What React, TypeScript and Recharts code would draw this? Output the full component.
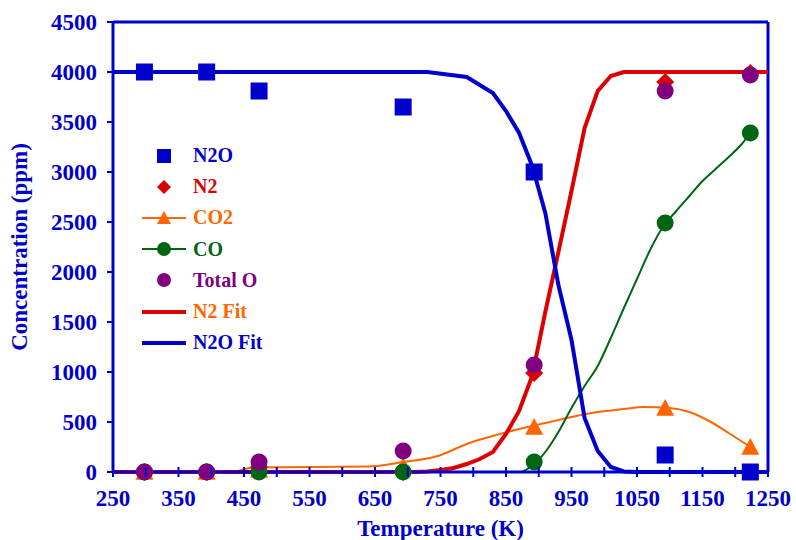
import React from "react";
import {
  ComposedChart,
  Line,
  XAxis,
  YAxis,
  ReferenceLine,
  Legend,
} from "recharts";

const BLUE = "#0000CC";
const RED = "#DD0000";
const ORANGE = "#FF6600";
const GREEN = "#006614";
const PURPLE = "#800080";
const FONT = '"Liberation Serif", "Times New Roman", serif';

// measured points
const temps = [298, 393, 473, 693, 893, 1093, 1223];
const n2o = [4000, 4000, 3810, 3650, 3000, 170, 0];
const n2 = [0, 0, 50, 0, 990, 3900, 3990];
const co2 = [0, 0, 20, 60, 450, 640, 250];
const co = [0, 0, 0, 0, 100, 2490, 3390];
const totalO = [0, 0, 100, 210, 1070, 3810, 3970];

// fitted / trend curves
const co2LineT = [250, 430, 465, 640, 693, 746, 790, 830, 870, 910, 950, 990, 1030, 1060, 1100, 1130, 1160, 1190, 1223];
const co2LineV = [0, 0, 45, 55, 100, 160, 280, 360, 430, 490, 550, 600, 630, 650, 640, 600, 510, 390, 250];

const coLineT = [250, 700, 730, 760, 790, 820, 850, 870, 890, 910, 930, 950, 970, 990, 1010, 1030, 1050, 1070, 1090, 1110, 1130, 1150, 1170, 1190, 1210, 1223];
const coLineV = [0, 0, -20, -60, -110, -130, -70, -10, 60, 200, 400, 640, 860, 1060, 1340, 1640, 1930, 2220, 2455, 2610, 2760, 2910, 3030, 3150, 3280, 3390];

const n2FitT = [250, 710, 730, 750, 770, 790, 810, 830, 850, 870, 890, 910, 930, 950, 970, 990, 1010, 1030, 1250];
const n2FitV = [0, 0, 5, 20, 40, 80, 130, 200, 380, 610, 960, 1600, 2200, 2810, 3440, 3810, 3960, 4000, 4000];

const n2oFitT = [250, 730, 790, 830, 850, 870, 890, 910, 930, 950, 970, 990, 1010, 1030, 1050, 1250];
const n2oFitV = [4000, 4000, 3950, 3790, 3610, 3390, 3060, 2590, 1870, 1320, 540, 210, 50, 5, 0, 0];

const xTicks = [250, 300, 350, 400, 450, 500, 550, 600, 650, 700, 750, 800, 850, 900, 950, 1000, 1050, 1100, 1150, 1200, 1250];
const yTicks = [0, 500, 1000, 1500, 2000, 2500, 3000, 3500, 4000, 4500];

const legendItems = [
  { name: "N2O", color: BLUE, text: BLUE, marker: "square", line: false },
  { name: "N2", color: RED, text: RED, marker: "diamond", line: false },
  { name: "CO2", color: ORANGE, text: ORANGE, marker: "triangle", line: true },
  { name: "CO", color: GREEN, text: GREEN, marker: "circle", line: true },
  { name: "Total O", color: PURPLE, text: PURPLE, marker: "circle", line: false },
  { name: "N2 Fit", color: RED, text: ORANGE, marker: "none", line: true },
  { name: "N2O Fit", color: BLUE, text: BLUE, marker: "none", line: true },
];

const pts = (t: number[], v: number[]) => t.map((x, i) => ({ t: x, v: v[i] }));

function Marker({ kind, cx, cy, color, s }: { kind: string; cx: number; cy: number; color: string; s: number }) {
  if (kind === "square") return <rect x={cx - s} y={cy - s} width={s * 2} height={s * 2} fill={color} />;
  if (kind === "diamond")
    return <polygon points={`${cx},${cy - s} ${cx + s},${cy} ${cx},${cy + s} ${cx - s},${cy}`} fill={color} />;
  if (kind === "triangle")
    return <polygon points={`${cx},${cy - s} ${cx + s},${cy + s * 0.85} ${cx - s},${cy + s * 0.85}`} fill={color} />;
  if (kind === "circle") return <circle cx={cx} cy={cy} r={s} fill={color} />;
  return null;
}

const dotOf = (kind: string, color: string, s: number) => (p: any) =>
  <Marker key={p.index} kind={kind} cx={p.cx} cy={p.cy} color={color} s={s} />;

const XTick = ({ x, y, payload }: any) => {
  const show = (payload.value - 250) % 100 === 0;
  return (
    <g>
      <line x1={x} x2={x} y1={y - 5} y2={y + 5} stroke={BLUE} strokeWidth={2} />
      {show && (
        <text x={x} y={y + 26} textAnchor="middle" dominantBaseline="central" fill={BLUE}
          style={{ fontFamily: FONT, fontWeight: "bold", fontSize: 23 }}>
          {payload.value}
        </text>
      )}
    </g>
  );
};

const LegendBox = () => (
  <div style={{ fontFamily: FONT, fontWeight: "bold", fontSize: 20 }}>
    {legendItems.map((it) => (
      <div key={it.name} style={{ display: "flex", alignItems: "center", height: 31.2 }}>
        <svg width={50} height={20} style={{ marginRight: 4 }}>
          {it.line && <line x1={3} x2={47} y1={10} y2={10} stroke={it.color} strokeWidth={it.marker === "none" ? 4 : 2} />}
          <Marker kind={it.marker} cx={25} cy={10} color={it.color} s={7} />
        </svg>
        <span style={{ color: it.text }}>{it.name}</span>
      </div>
    ))}
  </div>
);

export default function App() {
  return (
    <div style={{ position: "absolute", left: 0, top: 0 }}>
      <ComposedChart width={796} height={540} margin={{ top: 22, right: 28, left: 0, bottom: 0 }}>
        <XAxis
          dataKey="t"
          type="number"
          domain={[250, 1250]}
          ticks={xTicks}
          interval={0}
          height={68}
          tickSize={0}
          tickMargin={0}
          tickLine={false}
          tick={<XTick />}
          axisLine={{ stroke: BLUE, strokeWidth: 3 }}
          label={{
            value: "Temperature (K)",
            position: "insideBottom",
            offset: 4,
            fill: BLUE,
            style: { fontFamily: FONT, fontWeight: "bold", fontSize: 23 },
          }}
        />
        <YAxis
          dataKey="v"
          type="number"
          domain={[0, 4500]}
          allowDataOverflow
          ticks={yTicks}
          interval={0}
          width={113}
          tickSize={6}
          tickMargin={10}
          tickLine={{ stroke: BLUE, strokeWidth: 2 }}
          axisLine={{ stroke: BLUE, strokeWidth: 3 }}
          tick={{ fill: BLUE, fontFamily: FONT, fontWeight: "bold", fontSize: 23 }}
          label={{
            value: "Concentration (ppm)",
            angle: -90,
            position: "insideLeft",
            offset: 19,
            fill: BLUE,
            style: { fontFamily: FONT, fontWeight: "bold", fontSize: 23, textAnchor: "middle" },
          }}
        />
        <YAxis yAxisId="m" dataKey="v" type="number" domain={[0, 4500]} hide />
        <ReferenceLine y={4500} stroke={BLUE} strokeWidth={3} />
        <ReferenceLine x={1250} stroke={BLUE} strokeWidth={3} />

        <Line yAxisId="m" data={pts(co2LineT, co2LineV)} dataKey="v" type="monotone" stroke={ORANGE} strokeWidth={2} dot={false} activeDot={false} isAnimationActive={false} />
        <Line data={pts(coLineT, coLineV)} dataKey="v" type="monotone" stroke={GREEN} strokeWidth={2} dot={false} activeDot={false} isAnimationActive={false} />
        <Line yAxisId="m" data={pts(n2FitT, n2FitV)} dataKey="v" type="linear" stroke={RED} strokeWidth={4} dot={false} activeDot={false} isAnimationActive={false} />
        <Line yAxisId="m" data={pts(n2oFitT, n2oFitV)} dataKey="v" type="linear" stroke={BLUE} strokeWidth={4} dot={false} activeDot={false} isAnimationActive={false} />

        <Line yAxisId="m" data={pts(temps, n2o)} dataKey="v" stroke="none" dot={dotOf("square", BLUE, 8.5)} activeDot={false} isAnimationActive={false} />
        <Line yAxisId="m" data={pts(temps, n2)} dataKey="v" stroke="none" dot={dotOf("diamond", RED, 9)} activeDot={false} isAnimationActive={false} />
        <Line yAxisId="m" data={pts(temps, co2)} dataKey="v" stroke="none" dot={dotOf("triangle", ORANGE, 9)} activeDot={false} isAnimationActive={false} />
        <Line yAxisId="m" data={pts(temps, co)} dataKey="v" stroke="none" dot={dotOf("circle", GREEN, 8.5)} activeDot={false} isAnimationActive={false} />
        <Line yAxisId="m" data={pts(temps, totalO)} dataKey="v" stroke="none" dot={dotOf("circle", PURPLE, 8.5)} activeDot={false} isAnimationActive={false} />

        <Legend
          layout="vertical"
          align="center"
          verticalAlign="middle"
          content={<LegendBox />}
          wrapperStyle={{ left: 139, top: 140, width: 200, height: 220 }}
        />
      </ComposedChart>
    </div>
  );
}
